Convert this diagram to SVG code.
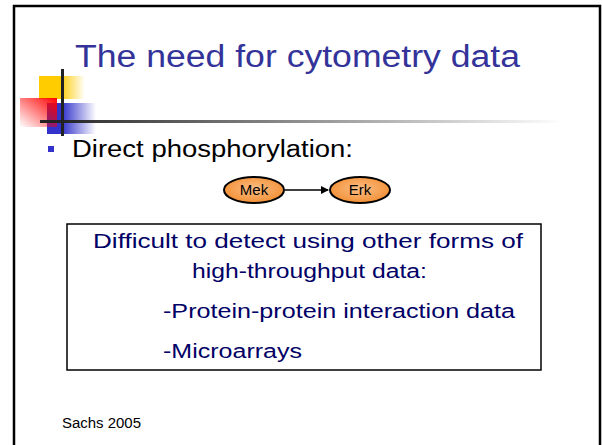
<svg xmlns="http://www.w3.org/2000/svg" width="602" height="445" viewBox="0 0 602 445">
<defs>
<style>
.t{font-family:"Comic Sans MS","Liberation Sans",sans-serif}
.title{font-size:31px;fill:#333399}
.body{font-size:23px;fill:#000}
.box{font-size:20px;fill:#000066}
.node{font-size:15px;fill:#000}
.ell{fill:url(#og);stroke:#000;stroke-width:2}
</style>
<linearGradient id="yg" x1="0" y1="0" x2="1" y2="0"><stop offset="0" stop-color="#FFCC00"/><stop offset="0.45" stop-color="#FFCC00"/><stop offset="1" stop-color="#FFCC00" stop-opacity="0"/></linearGradient>
<linearGradient id="bg" x1="0" y1="0" x2="1" y2="0"><stop offset="0" stop-color="#3333CC"/><stop offset="0.3" stop-color="#3333CC"/><stop offset="1" stop-color="#3333CC" stop-opacity="0"/></linearGradient>
<linearGradient id="rg" x1="1" y1="0" x2="0" y2="1"><stop offset="0" stop-color="#FF0000"/><stop offset="1" stop-color="#FF0000" stop-opacity="0"/></linearGradient>
<linearGradient id="lg" x1="0" y1="0" x2="1" y2="0"><stop offset="0" stop-color="#222"/><stop offset="1" stop-color="#222" stop-opacity="0"/></linearGradient>
<radialGradient id="og" cx="0.5" cy="0.45" r="0.6"><stop offset="0" stop-color="#FBBE86"/><stop offset="1" stop-color="#F28C2E"/></radialGradient>
<marker id="ah" markerWidth="8" markerHeight="8" refX="7" refY="4" orient="auto" markerUnits="userSpaceOnUse"><path d="M0,0 L8,4 L0,8 z" fill="#000"/></marker>
</defs>
<rect width="602" height="445" fill="#fff"/>
<rect x="14" y="6" width="586" height="445" fill="none" stroke="#000" stroke-width="2.5"/>
<g id="decor">
<rect x="39" y="76" width="46" height="23" fill="url(#yg)"/>
<rect x="47" y="103" width="49" height="31" fill="url(#bg)"/>
<rect x="20" y="98" width="37" height="29" fill="url(#rg)"/>
<rect x="40" y="120" width="524" height="3" fill="url(#lg)"/>
<rect x="61" y="69" width="3" height="67" fill="#222"/>
</g>
<text class="t title" x="75" y="67" textLength="445" lengthAdjust="spacingAndGlyphs">The need for cytometry data</text>
<rect x="48" y="146" width="6" height="6" fill="#3333CC"/>
<text class="t body" x="72" y="157" textLength="281" lengthAdjust="spacingAndGlyphs">Direct phosphorylation:</text>
<g id="connectors">
<line x1="285" y1="190" x2="328" y2="190" stroke="#000" stroke-width="1.5" marker-end="url(#ah)"/>
</g>
<g id="mek">
<ellipse class="ell" cx="254" cy="190" rx="30" ry="13"/>
<text class="t node" x="254" y="195" text-anchor="middle">Mek</text>
</g>
<g id="erk">
<ellipse class="ell" cx="360" cy="190" rx="30" ry="13"/>
<text class="t node" x="360" y="195" text-anchor="middle">Erk</text>
</g>
<g id="box">
<rect x="67" y="224" width="474" height="146" fill="#fff" stroke="#000" stroke-width="1.5"/>
<text class="t box" x="93" y="248" textLength="430" lengthAdjust="spacingAndGlyphs">Difficult to detect using other forms of</text>
<text class="t box" x="192" y="278" textLength="235" lengthAdjust="spacingAndGlyphs">high-throughput data:</text>
<text class="t box" x="163" y="318" textLength="352" lengthAdjust="spacingAndGlyphs">-Protein-protein interaction data</text>
<text class="t box" x="163" y="358" textLength="139" lengthAdjust="spacingAndGlyphs">-Microarrays</text>
</g>
<text class="t" x="62" y="428" font-size="14" fill="#000" textLength="79" lengthAdjust="spacingAndGlyphs">Sachs 2005</text>
</svg>
